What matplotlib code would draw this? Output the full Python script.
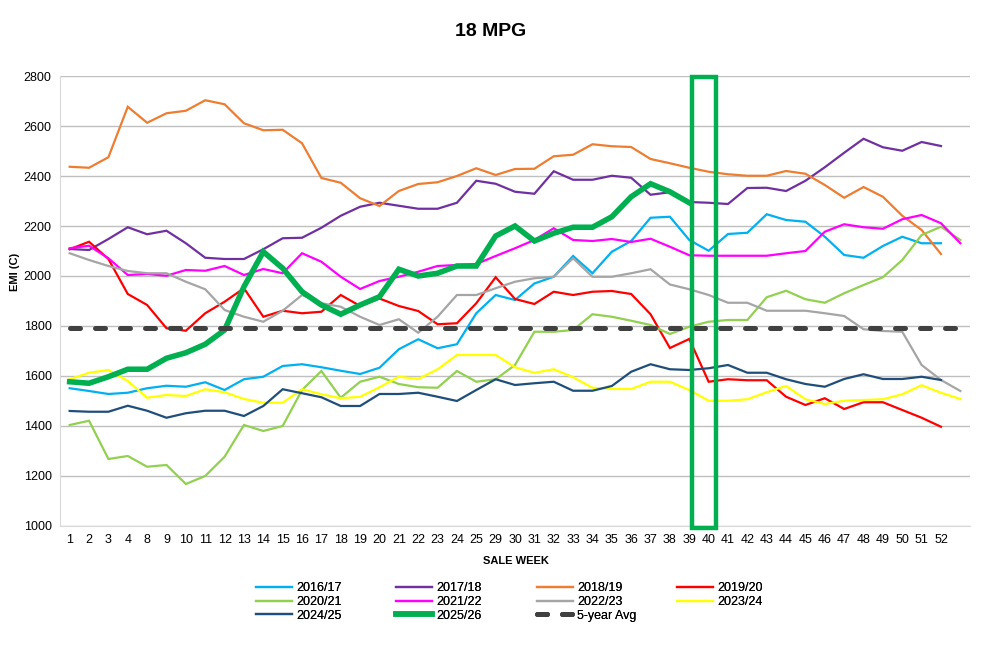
import matplotlib
matplotlib.use('Agg')
import matplotlib.pyplot as plt
from matplotlib.patches import Rectangle

plt.rcParams['font.family'] = ['Liberation Sans Narrow', 'Liberation Sans', 'DejaVu Sans']

weeks = ['1', '2', '3', '4', '8', '9', '10', '11', '12', '13', '14', '15', '16', '17', '18',
         '19', '20', '21', '22', '23', '24', '25', '29', '30', '31', '32', '33', '34', '35',
         '36', '37', '38', '39', '40', '41', '42', '43', '44', '45', '46', '47', '48', '49',
         '50', '51', '52', '']

s1617 = [1551, 1540, 1528, 1533, 1551, 1561, 1557, 1575, 1544, 1587, 1597, 1640, 1647, 1635,
         1621, 1608, 1633, 1707, 1747, 1711, 1727, 1851, 1924, 1904, 1970, 1997, 2080, 2011,
         2097, 2140, 2233, 2237, 2144, 2101, 2168, 2173, 2247, 2224, 2217, 2157, 2084, 2073,
         2120, 2157, 2131, 2131]
s1718 = [2108, 2104, 2148, 2195, 2167, 2181, 2131, 2073, 2068, 2068, 2107, 2151, 2153, 2193,
         2241, 2277, 2293, 2281, 2269, 2269, 2293, 2381, 2369, 2337, 2329, 2419, 2385, 2385,
         2401, 2393, 2325, 2335, 2296, 2293, 2288, 2352, 2353, 2340, 2381, 2435, 2493, 2549,
         2515, 2501, 2536, 2520]
s1819 = [2437, 2433, 2475, 2677, 2613, 2651, 2661, 2703, 2687, 2611, 2583, 2585, 2531, 2392,
         2373, 2311, 2280, 2340, 2368, 2375, 2400, 2431, 2404, 2428, 2429, 2479, 2485, 2527,
         2519, 2516, 2468, 2451, 2433, 2417, 2407, 2401, 2401, 2420, 2409, 2364, 2313, 2356,
         2317, 2241, 2184, 2088]
s1920 = [2107, 2137, 2068, 1928, 1884, 1791, 1781, 1851, 1897, 1951, 1837, 1861, 1851, 1857,
         1924, 1880, 1910, 1880, 1860, 1807, 1811, 1891, 1995, 1908, 1888, 1937, 1924, 1937,
         1940, 1928, 1847, 1712, 1748, 1577, 1587, 1583, 1583, 1517, 1484, 1511, 1468, 1495,
         1495, 1464, 1433, 1397]
s2021 = [1404, 1421, 1268, 1280, 1237, 1244, 1168, 1200, 1277, 1404, 1380, 1400, 1544, 1620,
         1513, 1577, 1597, 1568, 1555, 1553, 1620, 1577, 1587, 1644, 1777, 1777, 1784, 1847,
         1837, 1821, 1804, 1768, 1797, 1817, 1824, 1824, 1915, 1941, 1907, 1893, 1931, 1964,
         1995, 2064, 2164, 2197, 2144]
s2122 = [2111, 2121, 2071, 2004, 2008, 2001, 2024, 2021, 2040, 2004, 2028, 2011, 2091, 2057,
         1997, 1948, 1980, 1997, 2017, 2040, 2044, 2048, 2080, 2111, 2144, 2191, 2144, 2140,
         2148, 2136, 2149, 2117, 2083, 2081, 2081, 2081, 2081, 2091, 2100, 2177, 2207, 2195,
         2189, 2227, 2244, 2211, 2131]
s2223 = [2091, 2064, 2040, 2020, 2011, 2011, 1977, 1947, 1864, 1837, 1817, 1861, 1924, 1891,
         1877, 1837, 1804, 1827, 1773, 1837, 1924, 1924, 1951, 1977, 1991, 1997, 2071, 1997,
         1997, 2011, 2027, 1966, 1947, 1924, 1893, 1893, 1861, 1861, 1861, 1851, 1840, 1787,
         1780, 1777, 1644, 1584, 1540]
s2324 = [1587, 1613, 1624, 1580, 1513, 1524, 1520, 1547, 1535, 1508, 1493, 1493, 1547, 1527,
         1511, 1517, 1555, 1597, 1588, 1627, 1684, 1684, 1684, 1635, 1613, 1627, 1595, 1553,
         1548, 1548, 1577, 1577, 1544, 1501, 1501, 1507, 1535, 1560, 1507, 1488, 1501, 1504,
         1507, 1527, 1563, 1533, 1508]
s2425 = [1460, 1457, 1457, 1481, 1461, 1433, 1451, 1461, 1461, 1440, 1480, 1547, 1531, 1515,
         1480, 1480, 1528, 1528, 1533, 1517, 1500, 1544, 1587, 1564, 1571, 1577, 1541, 1541,
         1560, 1617, 1647, 1627, 1624, 1631, 1644, 1613, 1613, 1587, 1568, 1557, 1588, 1607,
         1588, 1588, 1597, 1584]
s2526 = [1577, 1571, 1597, 1627, 1627, 1671, 1693, 1727, 1784, 1957, 2097, 2031, 1937, 1884,
         1847, 1884, 1917, 2027, 2000, 2011, 2040, 2040, 2160, 2200, 2140, 2171, 2195, 2195,
         2237, 2317, 2369, 2337, 2293]
avg5 = [1790] * 47

seasons = ['2016/17', '2017/18', '2018/19', '2019/20', '2020/21', '2021/22',
           '2022/23', '2023/24', '2024/25', '2025/26']
series = [s1617, s1718, s1819, s1920, s2021, s2122, s2223, s2324, s2425, s2526]
colors = ['#00B0F0', '#7030A0', '#ED7D31', '#FF0000', '#92D050', '#FF00FF',
          '#A5A5A5', '#FFFF00', '#1F4E79', '#00B050']

# highlighted weeks (39-40 box)
box_x = (32.15, 33.37)
box_y = (993, 2797)


def main():
    fig = plt.figure(figsize=(9.87, 6.48), dpi=100)
    ax = fig.add_axes([0.0608, 0.1883, 0.922, 0.6944])

    handles = []
    for name, vals, c in zip(seasons, series, colors):
        lw = 4.0 if name == '2025/26' else 1.6
        h, = ax.plot(range(len(vals)), vals, color=c, lw=lw, label=name,
                     solid_joinstyle='miter')
        handles.append(h)
    h, = ax.plot(range(len(avg5)), avg5, color='#404040', lw=3.6, label='5-year Avg',
                 dashes=(2, 3), dash_capstyle='round')
    handles.append(h)

    ax.add_patch(Rectangle((box_x[0], box_y[0]), box_x[1] - box_x[0], box_y[1] - box_y[0],
                           fill=False, edgecolor='#00B050', lw=3.2, clip_on=False, zorder=5))

    ax.set_xlim(-0.5, 46.5)
    ax.set_ylim(1000, 2800)
    ax.set_yticks(range(1000, 2801, 200))
    ax.set_xticks(range(len(weeks)))
    ax.set_xticklabels(weeks)
    ax.tick_params(axis='both', length=0, labelsize=9)
    ax.tick_params(axis='x', pad=6)
    ax.tick_params(axis='y', pad=6)
    ax.yaxis.grid(True, color='#BFBFBF', lw=1)
    ax.set_axisbelow(True)
    for s in ['top', 'right']:
        ax.spines[s].set_visible(False)
    ax.spines['left'].set_color('#D9D9D9')
    ax.spines['bottom'].set_color('#D9D9D9')

    fig.text(0.497, 0.952, '18 MPG', ha='center', va='center', fontsize=14, fontweight='bold')
    fig.text(0.523, 0.135, 'SALE WEEK', ha='center', va='center', fontsize=8, fontweight='bold')
    fig.text(0.015, 0.58, 'EMI (C)', ha='center', va='center', fontsize=8,
             fontweight='bold', rotation=90)

    # Excel-style legend: 4 equal-width columns, filled row by row
    col_x = [256, 396, 537, 677]
    for k, cx in enumerate(col_x):
        hs = handles[k::4]
        leg = fig.legend(hs, [x.get_label() for x in hs], loc='upper left',
                         bbox_to_anchor=(cx / 987, 1 - 582 / 648), frameon=False,
                         fontsize=9, handlelength=2.9, handletextpad=0.3,
                         labelspacing=0.15, borderaxespad=0, borderpad=0)
        fig.add_artist(leg)

    fig.savefig('out.png', dpi=100)
    return 0


if __name__ == '__main__':
    main()
